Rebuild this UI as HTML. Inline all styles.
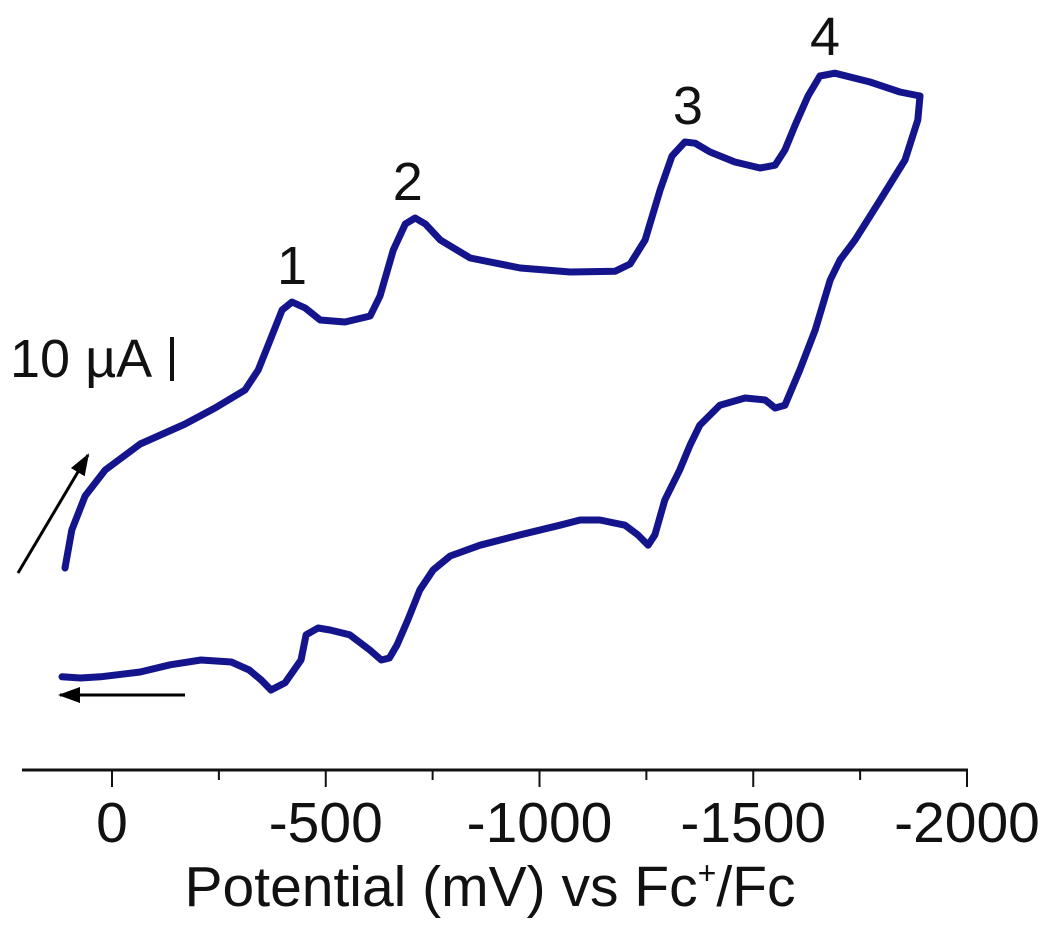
<!DOCTYPE html>
<html><head><meta charset="utf-8"><style>
html,body{margin:0;padding:0;background:#fff;width:1050px;height:933px;overflow:hidden}
svg{display:block}
text{font-family:"Liberation Sans",Arial,sans-serif;fill:#111}
</style></head><body>
<svg id="chart" width="1050" height="933" viewBox="0 0 1050 933" xmlns="http://www.w3.org/2000/svg">
<defs><marker id="ah" markerWidth="22" markerHeight="16" refX="20" refY="8" orient="auto" markerUnits="userSpaceOnUse"><path d="M0,0 L22,8 L0,16 z" fill="#000"/></marker></defs>
<g id="axis"></g>
<text x="490" y="906" font-size="57" text-anchor="middle">Potential (mV) vs Fc<tspan font-size="32" dy="-22">+</tspan><tspan dy="22">/Fc</tspan></text>
<text x="10" y="377" font-size="54">10 µA</text>
<line x1="172" y1="337" x2="172" y2="381" stroke="#111" stroke-width="4"/>
<line x1="18" y1="573" x2="88" y2="455" stroke="#000" stroke-width="3" marker-end="url(#ah)"/>
<line x1="185" y1="695" x2="60" y2="695" stroke="#000" stroke-width="3" marker-end="url(#ah)"/>
<g id="series"></g>
<g id="peaks"></g>
</svg>
<script>
const tickValues=[0,-500,-1000,-1500,-2000];
const tickLabels=["0","-500","-1000","-1500","-2000"];
const minorTicks=[-250,-750,-1250,-1750];
const peakLabels=["1","2","3","4"];
const peakE=[-421,-692,-1347,-1668];
const peakI=[64.5,85.5,104.5,121.7];
// forward scan: potential (mV), current (arb. µA units)
const fwdE=[110,94,63,16,-66,-171,-241,-311,-342,-370,-398,-421,-452,-487,-545,-604,-627,-658,-686,-709,-733,-768,-838,-955,-1072,-1177,-1212,-1247,-1282,-1310,-1340,-1364,-1399,-1457,-1516,-1551,-1574,-1598,-1628,-1656,-1691,-1773,-1843,-1890];
const fwdI=[-2,7.5,16,22.5,29,34,38,42.5,47.5,55,62.5,64.5,63,60,59.5,61,66,77.5,84,85.5,84,80,75.5,73,72,72.2,74,80,92.5,101,104.5,104.2,102,99.5,98,98.7,102.5,108.7,116,121,121.7,119.5,117,116];
// reverse scan
const revE=[-1890,-1885,-1855,-1797,-1738,-1703,-1680,-1645,-1609,-1574,-1551,-1528,-1481,-1422,-1375,-1352,-1328,-1293,-1270,-1254,-1230,-1200,-1141,-1095,-1048,-955,-861,-791,-751,-720,-692,-667,-649,-630,-603,-556,-510,-482,-454,-442,-405,-372,-349,-321,-279,-208,-136,-66,27,74,117];
const revI=[116,110,100,90,80,75,70,57.5,47.5,38.7,38,40,40.5,38.7,33.7,28.7,22.5,15,6.3,3.7,6.3,8.7,10,10,8.7,6.3,3.7,1,-2.5,-7.5,-15,-21.2,-24.5,-25,-22.5,-18.7,-17.5,-17,-18.7,-25,-30.7,-32.5,-30,-27.5,-25.5,-25,-26.2,-28,-29.2,-29.5,-29.2];
const NS="http://www.w3.org/2000/svg";
function xs(e){return 112+(-e)*0.4275;}
function ys(i){return 560-4*i;}
const ax=document.getElementById('axis');
function mk(tag,attrs,parent){const el=document.createElementNS(NS,tag);for(const k in attrs)el.setAttribute(k,attrs[k]);parent.appendChild(el);return el;}
const axl=mk('line',{x1:22,y1:770,x2:xs(-2000)+1,y2:770,stroke:'#111','stroke-width':3},ax);


tickValues.forEach((v,k)=>{
  const t=mk('line',{x1:xs(v),y1:770,x2:xs(v),y2:787,stroke:'#111','stroke-width':2},ax);
  
  
  const l=mk('text',{x:xs(v),y:842,'font-size':57,'text-anchor':'middle'},ax);
  l.textContent=tickLabels[k];
  
  
});
minorTicks.forEach(v=>{
  const t=mk('line',{x1:xs(v),y1:770,x2:xs(v),y2:780,stroke:'#111','stroke-width':2},ax);
  
  
});
function path(E,I){return E.map((e,k)=>(k?'L':'M')+xs(e).toFixed(1)+','+ys(I[k]).toFixed(1)).join(' ');}
const ser=document.getElementById('series');
const f=mk('path',{d:path(fwdE,fwdI),fill:'none',stroke:'#14148c','stroke-width':7,'stroke-linejoin':'round','stroke-linecap':'round'},ser);


const r=mk('path',{d:path(revE,revI),fill:'none',stroke:'#14148c','stroke-width':7,'stroke-linejoin':'round','stroke-linecap':'round'},ser);


const pk=document.getElementById('peaks');
peakLabels.forEach((p,k)=>{
  const t=mk('text',{x:xs(peakE[k]),y:ys(peakI[k])-18,'font-size':54,'text-anchor':'middle'},pk);
  t.textContent=p;
  
  
});
</script>
</body></html>
